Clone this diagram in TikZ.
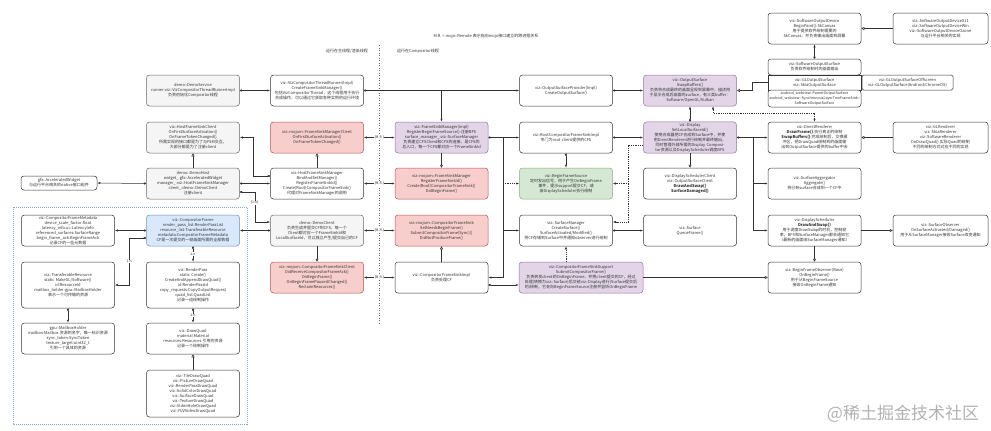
\documentclass[tikz,border=0pt]{standalone}
\usepackage{fontspec}
\setmainfont{Noto Sans CJK SC}
\usetikzlibrary{arrows.meta}
\XeTeXlinebreaklocale "zh"
\XeTeXlinebreakskip=0pt
\definecolor{txt}{HTML}{333333}
\definecolor{ln}{HTML}{333333}
\definecolor{grayF}{HTML}{F5F5F5}
\definecolor{grayB}{HTML}{666666}
\definecolor{redF}{HTML}{F8CECC}
\definecolor{redB}{HTML}{B85450}
\definecolor{purF}{HTML}{E1D5E7}
\definecolor{purB}{HTML}{9673A6}
\definecolor{grnF}{HTML}{D5E8D4}
\definecolor{grnB}{HTML}{82B366}
\definecolor{bluF}{HTML}{DAE8FC}
\definecolor{bluB}{HTML}{6C8EBF}
\definecolor{grpB}{HTML}{7EA6E0}
\newcommand\fs{\fontsize{4pt}{5pt}\selectfont}
\newcommand\fsm{\fontsize{3.5pt}{4pt}\selectfont}
\begin{document}
\begin{tikzpicture}[x=1pt,y=-1pt,
 nbox/.style={draw=ln, line width=0.5pt, rounded corners=3pt, fill=white, minimum width=93pt, minimum height=31pt, text width=90pt, inner sep=1pt, align=center, font=\fs, text=txt},
 gbox/.style={nbox, fill=grayF, draw=grayB},
 rbox/.style={nbox, fill=redF, draw=redB},
 pbox/.style={nbox, fill=purF, draw=purB},
 grbox/.style={nbox, fill=grnF, draw=grnB},
 bbox/.style={nbox, fill=bluF, draw=bluB},
 con/.style={draw=ln, line width=0.5pt},
 conOwn/.style={con, {Diamond[length=3pt,width=2.2pt]}-{Latex[length=3pt,width=2.2pt]}},
 conArr/.style={con, -{Latex[length=3pt,width=2.2pt]}},
 conBoth/.style={con, {Latex[length=3pt,width=2.2pt]}-{Latex[length=3pt,width=2.2pt]}},
 conImpl/.style={con, -{Triangle[open,length=3pt,width=3pt]}},
 dsh/.style={dash pattern=on 1.2pt off 1pt},
 lbl/.style={font=\fsm, text=txt, fill=white, inner sep=0.4pt},
 plain/.style={font=\fs, text=txt, inner sep=0.5pt}
]
\fill[white] (0,0) rectangle (991,431);
\useasboundingbox (0,0) rectangle (991,431);

% titles and separators
\node[plain] (title) at (486,36) {M.R. = mojo::Remote 表示指向mojo接口建立的跨进程关系};
\node[plain] (leftlbl) at (347,51) {运行在主线程/渲染线程};
\node[plain] (rightlbl) at (418,51) {运行在Compositor线程};
\draw[black!60, line width=0.5pt, dash pattern=on 1pt off 1.5pt] (379,45) -- (379,323);
\draw[grpB, line width=0.6pt, dash pattern=on 1pt off 1pt] (13,207) rectangle (247,424);

% row 0 / stack
\node[nbox] (sod) at (814.5,28.5) {viz::SoftwareOutputDevice\\BeginPaint():SkCanvas\\用于提供软件绘制需要的SkCanvas，并负责输出画面到屏幕};
\node[nbox, minimum width=95pt, text width=92pt] (sodx) at (940.5,28.5) {viz::SoftwareOutputDeviceX11\\viz::SoftwareOutputDeviceWin\\viz::SoftwareOutputDeviceOzone\\与运行平台相关的实现};
\node[nbox, minimum height=16pt] (sos) at (814.5,67) {viz::SoftwareOutputSurface\\负责软件绘制时的画面输出};
\node[nbox, rounded corners=0pt, minimum height=15pt] (gls) at (814.5,82.5) {viz::GLOutputSurface\\viz::SkiaOutputSurface};
\node[nbox, minimum height=17pt, font=\fontsize{3.6pt}{4.6pt}\selectfont] (aos) at (814.5,98.5) {android\_webview::ParentOutputSurface\\android\_webview::SynchronousLayerTreeFrameSink::\\SoftwareOutputSurface};
\node[nbox, rounded corners=1.5pt, minimum width=91pt, text width=88pt, minimum height=15pt] (glo) at (907.5,82.5) {viz::GLOutputSurfaceOffscreen\\viz::GLOutputSurface(Android/ChromeOS)};

% row 1
\node[gbox] (demoService) at (193,90.5) {demo::DemoService\\runner:viz::VizCompositorThreadRunnerImpl\\负责初始化Compositor线程};
\node[nbox] (runner) at (317,90.5) {viz::VizCompositorThreadRunner(Impl)\\CreateFrameSinkManager()\\包括VizCompositorThread，这个线程用于执行合成操作，可以通过它获取各种实例的运行环境};
\node[nbox] (osp) at (566,90.5) {viz::OutputSurfaceProvider(Impl)\\CreateOutputSurface()};
\node[pbox] (os) at (690,90.5) {viz::OutputSurface\\SwapBuffers()\\负责将合成最终的画面呈现到屏幕中，描述用于显示合成后画面的surface，有三类buffer：\\Software/OpenGL/Vulkan};

% row 2
\node[gbox] (hfsc) at (193,137.5) {viz::HostFrameSinkClient\\OnFirstSurfaceActivation()\\OnFrameTokenChanged()\\所需实现的接口都是为了与FSM交互，\\大部分都是为了注册client};
\node[rbox] (fsmc) at (317,137.5) {viz::mojom::FrameSinkManagerClient\\OnFirstSurfaceActivation()\\OnFrameTokenChanged()};
\node[pbox] (fsmi) at (441.5,137.5) {viz::FrameSinkManager(Impl)\\RegisterBeginFrameSource():注册BFS\\surface\_manager\_:viz::SurfaceManager\\负责建立CFSClient和CFS的连接，是CFS的总入口，每一个CFS都对应一个FrameSinkId};
\node[nbox] (root) at (566,137.5) {viz::RootCompositorFrameSinkImpl\\专门为root client提供的CFS};
\node[pbox] (display) at (690,137.5) {viz::Display\\SetLocalSurfaceId()\\使用合成器把CF合成到Surface中，并使用DirectRenderer进行绘制并最终输出，同时管理外部所需的Display Compositor资源以及DisplayScheduler调度BFS};
\node[nbox] (dr) at (814.5,137.5) {viz::DirectRenderer\\\textbf{DrawFrame()}:执行真正的绘制\\\textbf{SwapBuffers()}:完成绘制后，交换缓冲区，把DrawQuad绘制到的画面输出到OutputSurface提供的buffer中去};
\node[nbox, minimum width=95pt, text width=92pt] (glr) at (940.5,137.5) {viz::GLRenderer\\viz::SkiaRenderer\\viz::SoftwareRenderer\\DoDrawQuad():实际Quad的绘制\\不同的绘制方式对应不同的实现};

% row 3
\node[nbox, minimum width=76pt, text width=73pt, minimum height=14pt] (widget) at (59,183) {gfx::AcceleratedWidget\\与运行平台相关的native窗口组件};
\node[gbox] (demoHost) at (193,183.5) {demo::DemoHost\\widget\_:gfx::AcceleratedWidget\\manager\_:viz::HostFrameSinkManager\\client\_:demo::DemoClient\\注册client};
\node[nbox] (hfsm) at (317,183.5) {viz::HostFrameSinkManager\\BindAndSetManager()\\RegisterFrameSinkId()\\Create(Root)CompositorFrameSink()\\代理对FrameSinkManager的调用};
\node[rbox] (mfsm) at (441.5,183.5) {viz::mojom::FrameSinkManager\\RegisterFrameSinkId()\\Create(Root)CompositorFrameSink()\\DidBeginFrame()};
\node[grbox] (bfs) at (566,183.5) {viz::BeginFrameSource\\定时发出信号，用于产生OnBeginFrame事件，提示support提交CF，或由DisplayScheduler执行绘制};
\node[nbox] (dsc) at (690,183.5) {viz::DisplaySchedulerClient\\viz::OutputSurfaceClient\\\textbf{DrawAndSwap()}\\\textbf{SurfaceDamaged()}};
\node[nbox] (sa) at (814.5,183.5) {viz::SurfaceAggregator\\Aggregate()\\将已有surface合成到一个CF中};

% row 4
\node[nbox] (meta) at (68,230.5) {viz::CompositorFrameMetadata\\device\_scale\_factor:float\\latency\_info:ui::LatencyInfo\\referenced\_surfaces:SurfaceRange\\begin\_frame\_ack:BeginFrameAck\\记录CF的一些元数据};
\node[bbox] (cf) at (193,230.5) {viz::CompositorFrame\\render\_pass\_list:RenderPassList\\resource\_list:TransferableResource\\metadata:CompositorFrameMetadata\\CF是一次提交的一帧画面所需的全部数据};
\node[gbox] (demoClient) at (317,230.5) {demo::DemoClient\\负责生成并提交CF到CFS，每一个Client都对应一个FrameSinkId和LocalSurfaceId，可以独立产生/提交自己的CF};
\node[rbox] (mcfs) at (441.5,230.5) {viz::mojom::CompositorFrameSink\\SetNeedsBeginFrame()\\SubmitCompositorFrame(Sync)()\\DidNotProduceFrame()};
\node[nbox] (sm) at (566,230.5) {viz::SurfaceManager\\CreateSurface()\\SurfaceActivated/Modified()\\将CF存储到Surface中并通知observer进行绘制};
\node[nbox] (surface) at (690,230.5) {viz::Surface\\QueueFrame()};
\node[nbox] (ds) at (814.5,230.5) {viz::DisplayScheduler\\\textbf{DrawAndSwap()}\\用于调度DrawSwap的时机，控制帧率，BFS和SurfaceManager都会通知它（最新的画面由SurfaceManager通知）};
\node[nbox, minimum width=95pt, text width=92pt] (so) at (940.5,230.5) {viz::SurfaceObserver\\OnSurfaceActivated/Damaged()\\用于从SurfaceManager接收Surface改变通知};

% row 5
\node[nbox, minimum height=46pt] (tr) at (68,285) {viz::TransferableResource\\static MakeGL/Software()\\id:ResourceId\\mailbox\_holder:gpu::MailboxHolder\\表示一个可传输的资源};
\node[nbox, minimum height=46pt] (rp) at (193,285) {viz::RenderPass\\static Create()\\CreateAndAppendDrawQuad()\\id:RenderPassId\\copy\_requests:CopyOutputRequest\\quad\_list:QuadList\\记录一组绘制操作};
\node[rbox] (cfsc) at (317,277.5) {viz::mojom::CompositorFrameSinkClient\\DidReceiveCompositorFrameAck()\\OnBeginFrame()\\OnBeginFramePausedChanged()\\ReclaimResources()};
\node[nbox] (cfsi) at (441.5,277.5) {viz::CompositorFrameSinkImpl\\负责处理CF};
\node[pbox, minimum width=124pt, text width=121pt] (cfss) at (581,277.5) {viz::CompositorFrameSinkSupport\\SubmitCompositorFrame()\\负责转发client的OnBeginFrame，并把client提交的CF，经过处理(转换为viz::Surface)后交给viz::Display进行(Surface提交后的)绘制，它会向BeginFrameSource注册并监听OnBeginFrame};
\node[nbox] (bfo) at (814.5,277.5) {viz::BeginFrameObserver(Base)\\OnBeginFrame()\\用于从BeginFrameSource接收OnBeginFrame通知};

% rows 6-7
\node[nbox] (mailbox) at (68,338.5) {gpu::MailboxHolder\\mailbox:Mailbox 资源的名字，唯一标识资源\\sync\_token:SyncToken\\texture\_target:uint32\_t\\引用一个具体的资源};
\node[nbox] (dq) at (193,338.5) {viz::DrawQuad\\material:Material\\resources:Resources 引用的资源\\记录一个绘制操作};
\node[nbox, minimum height=47pt] (quads) at (193,393.5) {viz::TileDrawQuad\\viz::PictureDrawQuad\\viz::RenderPassDrawQuad\\viz::SolidColorDrawQuad\\viz::SurfaceDrawQuad\\viz::TextureDrawQuad\\viz::VideoHoleDrawQuad\\viz::YUVVideoDrawQuad};

\node[font=\fontsize{17pt}{17pt}\selectfont, text=black!30] (wm) at (903,414) {@稀土掘金技术社区};

% connectors: right part
\draw[conOwn] (demoService.east) -- (runner.west);
\draw[conOwn] (runner.east) -- (osp.west);
\draw[conArr] (runner.east -| fsmi.north) -- (fsmi.north);
\draw[conOwn] (osp.east) -- (os.west);
\draw[conOwn] (display.north) -- (os.south);
\draw[conImpl] (gls.west) -- ++(-16,0) |- (os.east);
\draw[conOwn] (sos.north) -- (sod.south);
\draw[conImpl] (sodx.west) -- (sod.east);
\draw[conBoth, dsh] (dr.north) -- ++(0,-9) -| ([xshift=23pt]os.south);
\draw[conOwn] (fsmi.east) -- (root.west);
\coordinate (bus1) at (503,137.5);
\draw[conArr] (bus1) |- (cfsi.east);
\draw[conArr] (bus1 |- sm.west) -- (sm.west);
\draw[conArr, dsh] (bus1 |- bfs.west) -- (bfs.west);
\draw[conOwn] (root.east) -- (display.west);
\draw[conOwn] (root.south) -- (bfs.north);
\draw[conArr, dsh] ([yshift=-7.5pt]display.west) -- ++(-15,0) |- (bfs.east);
\coordinate (dbus) at (628.5,183.5);
\draw[conArr, dsh] (dbus) |- ([yshift=8.5pt]sm.east);
\draw[conImpl] (display.south) -- (dsc.north);
\draw[conOwn] (display.east) -- (dr.west);
\coordinate (bus2) at (753,137.5);
\draw[conArr] (bus2) |- (ds.west);
\draw[conArr] (bus2 |- sa.west) -- (sa.west);
\draw[conImpl] (glr.west) -- (dr.east);
\draw[conOwn] (sm.east) -- (surface.west);
\draw[conArr, dsh] (sm.south |- cfss.north) -- (sm.south);
\draw[conOwn] ([yshift=-7.5pt]cfsi.east) -- ([yshift=-7.5pt]cfss.west);
\draw[conImpl] (cfss.east) -- (bfo.west);
\draw[conImpl] (ds.east) -- (so.west);
\draw[conImpl] (ds.south) -- (bfo.north);

% connectors: left part
\draw[conOwn] ([yshift=7.5pt]hfsm.west) -- ++(-17,0) |- (hfsc.east);
\draw[conOwn] (demoHost.east) -- (hfsm.west);
\draw[conOwn] ([yshift=-8.5pt]demoHost.east) -- ++(15,0) |- ([yshift=8.5pt]demoClient.west) node[pos=0.18, lbl] {(1:n)};
\draw[conImpl] (demoHost.north) -- (hfsc.south);
\draw[conOwn] (demoHost.west) -- (widget.east);
\draw[conImpl] (hfsm.north) -- (fsmc.south);
\draw[conBoth] (fsmi.west) -- node[lbl] {(M.R.)} (fsmc.east);
\draw[conBoth] (hfsm.east) -- node[lbl] {(M.R.)} (mfsm.west);
\draw[conImpl] (fsmi.south) -- (mfsm.north);
\draw[conOwn] (demoClient.west) -- (cf.east);
\draw[conBoth] (demoClient.east) -- node[lbl] {(M.R.)} (mcfs.west);
\draw[conImpl] (demoClient.south) -- (cfsc.north);
\draw[conBoth] (cfsi.west) -- node[lbl] {(M.R.)} (cfsc.east);
\draw[conImpl] (cfsi.north) -- (mcfs.south);
\draw[conOwn] (cf.west) -- (meta.east);
\draw[conOwn] ([yshift=-7.5pt]cf.west) -- ++(-17,0) |- (tr.east) node[pos=0.25, lbl] {1:n};
\draw[conOwn] (cf.south) -- node[lbl] {1:n} (rp.north);
\draw[conOwn] (tr.south) -- (mailbox.north);
\draw[conOwn] (rp.south) -- node[lbl] {1:n} (dq.north);
\draw[conImpl] (quads.north) -- (dq.south);
\end{tikzpicture}
\end{document}
